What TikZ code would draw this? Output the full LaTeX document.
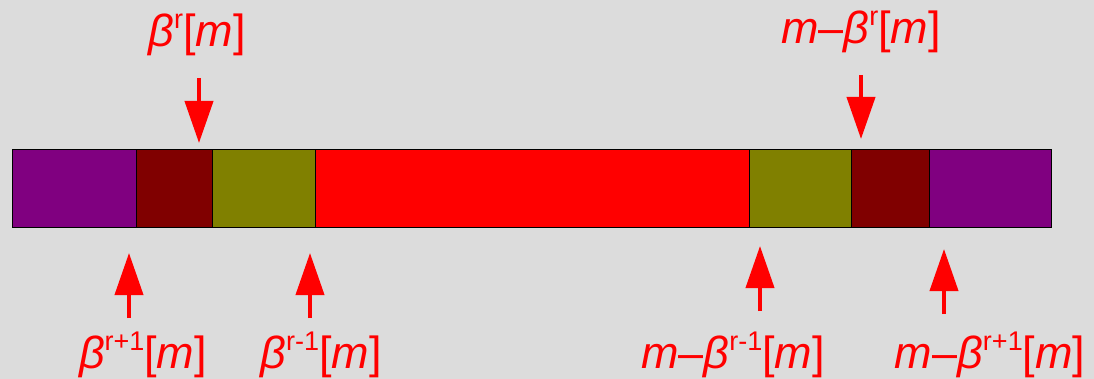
\documentclass[tikz,border=0pt]{standalone}
\usepackage{fontspec}
\setmainfont{Liberation Sans}
\usetikzlibrary{arrows.meta}
\definecolor{bg}{RGB}{220,220,220}
\definecolor{cpurple}{RGB}{128,0,128}
\definecolor{cdarkred}{RGB}{128,0,0}
\definecolor{colive}{RGB}{128,128,0}
\definecolor{cred}{RGB}{255,0,0}
\newcommand{\sups}[1]{\raisebox{0.40em}{\fontsize{27}{27}\selectfont #1}}
\tikzset{
  seg/.style={draw=black, line width=1pt, inner sep=0pt, outer sep=0pt, anchor=north west, minimum height=78.5pt},
  lbl/.style={text=cred, inner sep=0pt, font=\fontsize{45}{47}\selectfont},
  parrow/.style={draw=cred, line width=4pt, -{Triangle[width=28pt,length=42pt]}},
}
\begin{document}
\begin{tikzpicture}[x=1pt,y=-1pt]
\fill[bg] (0,0) rectangle (1094,379);
\useasboundingbox (0,0) rectangle (1094,379);
% bar segments
\node[seg, fill=cpurple, minimum width=123.5pt] (s1) at (12.5,149.5) {};
\node[seg, fill=cdarkred, minimum width=76.5pt] (s2) at (136,149.5) {};
\node[seg, fill=colive, minimum width=102.5pt] (s3) at (212.5,149.5) {};
\node[seg, fill=cred, minimum width=434pt] (s4) at (315,149.5) {};
\node[seg, fill=colive, minimum width=102pt] (s5) at (749,149.5) {};
\node[seg, fill=cdarkred, minimum width=78pt] (s6) at (851,149.5) {};
\node[seg, fill=cpurple, minimum width=122pt] (s7) at (929,149.5) {};
% labels
\node[lbl] (t1) at (197,35) {\textit{β}\sups{r}[\textit{m}]};
\node[lbl] (t2) at (861,32) {\textit{m}–\textit{β}\sups{r}[\textit{m}]};
\node[lbl] (b1) at (143,355) {\textit{β}\sups{r+1}[\textit{m}]};
\node[lbl] (b2) at (321,355) {\textit{β}\sups{r-1}[\textit{m}]};
\node[lbl] (b3) at (733,355) {\textit{m}–\textit{β}\sups{r-1}[\textit{m}]};
\node[lbl] (b4) at (990,355) {\textit{m}–\textit{β}\sups{r+1}[\textit{m}]};
% arrow end points
\coordinate (a1s) at (199,78);  \coordinate (a1e) at (199,143);
\coordinate (a2s) at (861,75);  \coordinate (a2e) at (861,139);
\coordinate (c1s) at (129,318); \coordinate (c1e) at (129,253);
\coordinate (c2s) at (310,318); \coordinate (c2e) at (310,253);
\coordinate (c3s) at (760,311); \coordinate (c3e) at (760,246);
\coordinate (c4s) at (944,314); \coordinate (c4e) at (944,249);
\draw[parrow] (a1s) -- (a1e);
\draw[parrow] (a2s) -- (a2e);
\draw[parrow] (c1s) -- (c1e);
\draw[parrow] (c2s) -- (c2e);
\draw[parrow] (c3s) -- (c3e);
\draw[parrow] (c4s) -- (c4e);
\end{tikzpicture}
\end{document}
